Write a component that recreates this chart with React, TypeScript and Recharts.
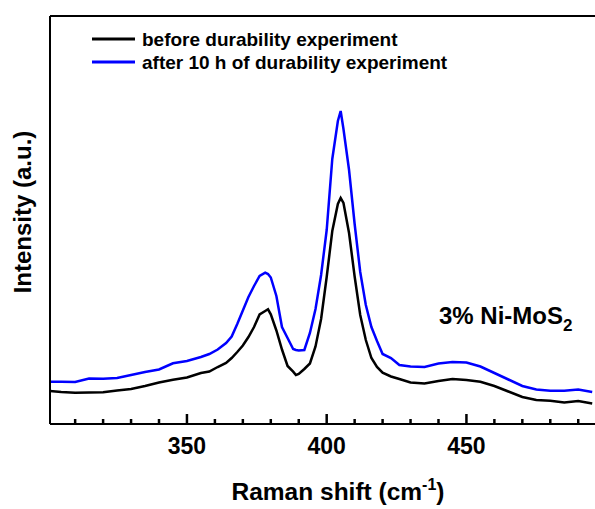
import { LineChart, Line, XAxis, YAxis, ReferenceLine } from "recharts";

// Raman shift (cm-1) sample positions
const SHIFT = [
  301, 305, 310, 315, 320, 325, 330, 335, 340, 345,
  350, 355, 358, 361, 364, 366, 368, 370, 372, 374,
  376, 378, 379, 380, 382, 384, 386, 388, 389, 390,
  392, 394, 396, 398, 400, 402, 404, 405, 406, 408,
  410, 412, 414, 416, 418, 420, 423, 426, 430, 435,
  440, 445, 450, 455, 460, 465, 470, 475, 480, 485,
  490, 495,
];

// before durability experiment
const BEFORE = [
  33, 32, 31.3, 31.5, 31.7, 33.5, 35, 38, 41.5, 44.3,
  46.5, 51, 52.5, 57, 61, 66, 72, 78.5, 87, 97,
  109.6, 113, 114.7, 109.7, 93.5, 74.5, 58, 52.4, 49, 50,
  55, 60.5, 77.5, 105, 147, 193, 220, 226, 221, 191,
  147.5, 109, 84, 66, 57, 51.3, 47.5, 45, 41.5, 40.5,
  43, 45, 44, 42.3, 38, 32.5, 27, 24, 23.3, 21.5,
  23, 20.5,
];

// after 10 h of durability experiment
const AFTER = [
  42.3, 42.3, 42, 45.5, 45.3, 46, 49, 52, 54.5, 60.7,
  63, 67, 70, 74.5, 81, 87.5, 100, 113.6, 127, 138,
  148, 151.3, 150, 146.5, 128, 97, 86, 75, 74, 73.5,
  74, 91, 115, 149, 194, 265, 303, 313, 295, 254,
  200, 152, 119, 97, 83, 70, 66, 59, 57.5, 57,
  60.5, 62, 61.5, 57.5, 51, 44.5, 38, 34.5, 33.3, 33.3,
  34.5, 32,
];

const MAJOR_TICKS = [350, 400, 450];
const ALL_TICKS = [310, 320, 330, 340, 350, 360, 370, 380, 390, 400, 410, 420, 430, 440, 450, 460, 470, 480, 490];
const LEGEND_LABELS = ["before durability experiment", "after 10 h of durability experiment"];
const SERIES_COLORS = ["#000000", "#0000ff"];

const data = SHIFT.map((s, i) => ({ shift: s, before: BEFORE[i], after: AFTER[i] }));

const FONT = "Arial, 'Liberation Sans', Helvetica, sans-serif";
const Y_MAX = 408;

// tickSize is 1, so the axis line sits at y - 1; ticks point inward (up)
function XTick(props: any) {
  const { x, y, payload } = props;
  const major = MAJOR_TICKS.includes(payload.value);
  const base = y - 1;
  return (
    <g>
      <line x1={x} x2={x} y1={base} y2={base - (major ? 10 : 5)} stroke="#000" strokeWidth={2.5} />
      {major && (
        <text x={x} y={base + 30} textAnchor="middle" fontSize={23} fontWeight={700} fontFamily={FONT} fill="#000">
          {payload.value}
        </text>
      )}
    </g>
  );
}

export default function App() {
  return (
    <div style={{ position: "absolute", left: 0, top: 0, width: 595, height: 509, background: "#fff" }}>
      <LineChart width={595} height={509} data={data} margin={{ top: 16, right: 0, bottom: 45, left: 40 }}>
        <XAxis
          dataKey="shift"
          type="number"
          domain={[301, 496]}
          ticks={ALL_TICKS}
          interval={0}
          height={40}
          tickSize={1}
          tickMargin={0}
          tickLine={false}
          tick={<XTick />}
          axisLine={{ stroke: "#000", strokeWidth: 2 }}
        />
        <YAxis
          type="number"
          domain={[0, Y_MAX]}
          width={10}
          tick={false}
          tickLine={false}
          axisLine={{ stroke: "#000", strokeWidth: 2 }}
        />
        {/* top frame line */}
        <ReferenceLine y={Y_MAX} stroke="#000" strokeWidth={2} />
        <Line type="linear" dataKey="before" stroke={SERIES_COLORS[0]} strokeWidth={2.5} dot={false} isAnimationActive={false} />
        <Line type="linear" dataKey="after" stroke={SERIES_COLORS[1]} strokeWidth={2.5} dot={false} isAnimationActive={false} />
      </LineChart>

      <svg width={595} height={509} style={{ position: "absolute", left: 0, top: 0, pointerEvents: "none" }}>
        {LEGEND_LABELS.map((label, i) => (
          <g key={label}>
            <line x1={92} x2={135} y1={39 + i * 23} y2={39 + i * 23} stroke={SERIES_COLORS[i]} strokeWidth={3} />
            <text x={142} y={45.5 + i * 23} fontSize={19} fontWeight={700} fontFamily={FONT} fill="#000">
              {label}
            </text>
          </g>
        ))}
        <text
          x={22}
          y={212}
          transform="rotate(-90 22 212)"
          textAnchor="middle"
          dominantBaseline="central"
          fontSize={24}
          fontWeight={700}
          fontFamily={FONT}
          fill="#000"
        >
          Intensity (a.u.)
        </text>
        <text x={338} y={500} textAnchor="middle" fontSize={24.5} fontWeight={700} fontFamily={FONT} fill="#000">
          Raman shift (cm
          <tspan dy={-10} fontSize={16}>-1</tspan>
          <tspan dy={10} fontSize={24.5}>)</tspan>
        </text>
        <text x={439} y={324} fontSize={24} fontWeight={700} fontFamily={FONT} fill="#000">
          3% Ni-MoS
          <tspan dy={7} fontSize={17}>2</tspan>
        </text>
      </svg>
    </div>
  );
}
